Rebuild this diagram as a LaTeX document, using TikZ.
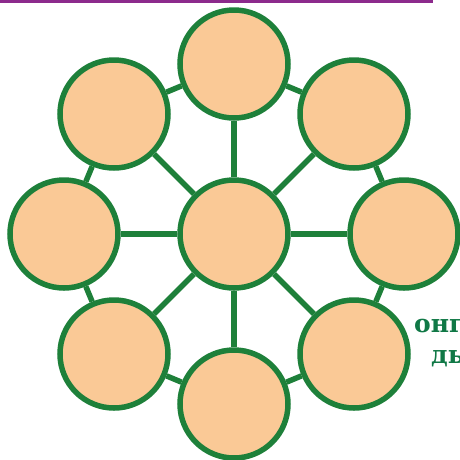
\documentclass[tikz,border=0pt]{standalone}
\usepackage{fontspec}
\newfontfamily\cyrserif{DejaVu Serif}
\definecolor{ringgreen}{RGB}{30,128,58}
\definecolor{peach}{RGB}{250,201,150}
\definecolor{framepurple}{RGB}{140,42,140}
\definecolor{txtgreen}{RGB}{16,120,70}
\begin{document}
\begin{tikzpicture}[x=1pt,y=-1pt,
  bubble/.style={circle, draw=ringgreen, fill=peach, line width=5.5pt, minimum size=108pt, inner sep=0pt},
  link/.style={draw=ringgreen, line width=5.5pt},
  label text/.style={anchor=base west, text=txtgreen, inner sep=0pt, font=\cyrserif\bfseries\fontsize{25}{30}\selectfont}]
\useasboundingbox (0,0) rectangle (460,459);
\clip (0,0) rectangle (460,459);
\draw[framepurple, line width=2.5pt] (1,-20) rectangle (432,1.5);
\node[bubble] (c) at (234,234) {};
\node[bubble] (n) at (234,64) {};
\node[bubble] (ne) at (354,114) {};
\node[bubble] (e) at (404,234) {};
\node[bubble] (se) at (354,354) {};
\node[bubble] (s) at (234,404) {};
\node[bubble] (sw) at (114,354) {};
\node[bubble] (w) at (64,234) {};
\node[bubble] (nw) at (114,114) {};
\foreach \o in {n,ne,e,se,s,sw,w,nw} \draw[link] (c) -- (\o);
\draw[link] (n) -- (ne);
\draw[link] (ne) -- (e);
\draw[link] (e) -- (se);
\draw[link] (se) -- (s);
\draw[link] (s) -- (sw);
\draw[link] (sw) -- (w);
\draw[link] (w) -- (nw);
\draw[link] (nw) -- (n);
\node[label text] (t1) at (414,332) {онг};
\node[label text] (t2) at (431,363) {дь};
\end{tikzpicture}
\end{document}
